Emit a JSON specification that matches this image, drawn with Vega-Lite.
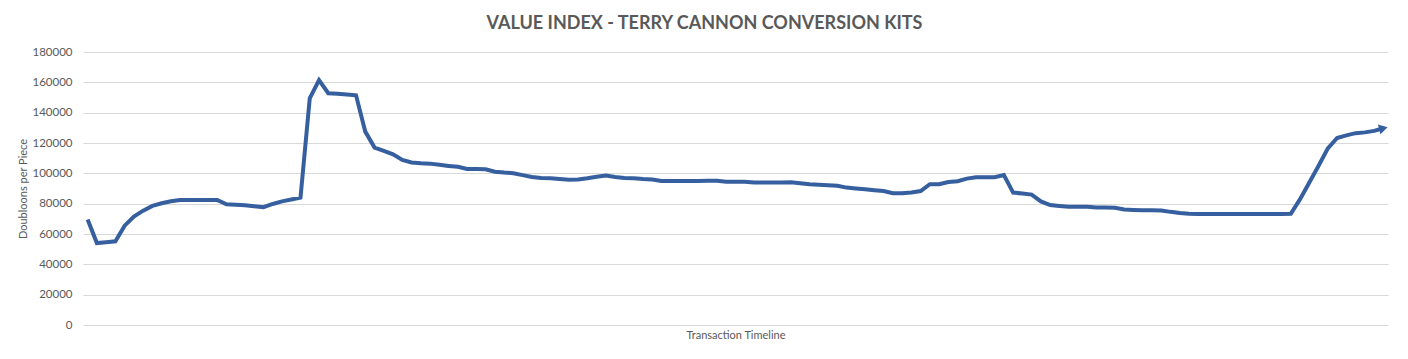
{
  "$schema": "https://vega.github.io/schema/vega-lite/v6.json",
  "width": 1305,
  "height": 273,
  "autosize": {"type": "none"},
  "padding": {"left": 83, "top": 52, "right": 20, "bottom": 34},
  "background": "white",
  "title": {
    "text": "VALUE INDEX - TERRY CANNON CONVERSION KITS",
    "font": "Lato",
    "fontSize": 18,
    "fontWeight": "bold",
    "color": "#595959",
    "anchor": "middle",
    "dx": -31,
    "offset": 13
  },
  "data": {
    "values": [
      {"t": 1, "v": 69500}, {"t": 2, "v": 54000}, {"t": 3, "v": 54600}, {"t": 4, "v": 55200},
      {"t": 5, "v": 65500}, {"t": 6, "v": 71500}, {"t": 7, "v": 75400}, {"t": 8, "v": 78500},
      {"t": 9, "v": 80300}, {"t": 10, "v": 81600}, {"t": 11, "v": 82400}, {"t": 12, "v": 82400},
      {"t": 13, "v": 82400}, {"t": 14, "v": 82400}, {"t": 15, "v": 82400}, {"t": 16, "v": 79600},
      {"t": 17, "v": 79300}, {"t": 18, "v": 79000}, {"t": 19, "v": 78300}, {"t": 20, "v": 77700},
      {"t": 21, "v": 79800}, {"t": 22, "v": 81500}, {"t": 23, "v": 82800}, {"t": 24, "v": 84000},
      {"t": 25, "v": 149500}, {"t": 26, "v": 161500}, {"t": 27, "v": 152800}, {"t": 28, "v": 152500},
      {"t": 29, "v": 152000}, {"t": 30, "v": 151400}, {"t": 31, "v": 127500}, {"t": 32, "v": 117000},
      {"t": 33, "v": 114800}, {"t": 34, "v": 112500}, {"t": 35, "v": 108800}, {"t": 36, "v": 107200},
      {"t": 37, "v": 106600}, {"t": 38, "v": 106400}, {"t": 39, "v": 105600}, {"t": 40, "v": 104900},
      {"t": 41, "v": 104300}, {"t": 42, "v": 102900}, {"t": 43, "v": 102900}, {"t": 44, "v": 102700},
      {"t": 45, "v": 101100}, {"t": 46, "v": 100500}, {"t": 47, "v": 100100}, {"t": 48, "v": 98800},
      {"t": 49, "v": 97600}, {"t": 50, "v": 97000}, {"t": 51, "v": 96700}, {"t": 52, "v": 96200},
      {"t": 53, "v": 95700}, {"t": 54, "v": 96000}, {"t": 55, "v": 96800}, {"t": 56, "v": 97800},
      {"t": 57, "v": 98500}, {"t": 58, "v": 97600}, {"t": 59, "v": 97000}, {"t": 60, "v": 96800},
      {"t": 61, "v": 96200}, {"t": 62, "v": 95900}, {"t": 63, "v": 95000}, {"t": 64, "v": 95000},
      {"t": 65, "v": 95000}, {"t": 66, "v": 95000}, {"t": 67, "v": 95000}, {"t": 68, "v": 95100},
      {"t": 69, "v": 95100}, {"t": 70, "v": 94500}, {"t": 71, "v": 94500}, {"t": 72, "v": 94500},
      {"t": 73, "v": 94000}, {"t": 74, "v": 93900}, {"t": 75, "v": 93900}, {"t": 76, "v": 94000},
      {"t": 77, "v": 94100}, {"t": 78, "v": 93500}, {"t": 79, "v": 92800}, {"t": 80, "v": 92500},
      {"t": 81, "v": 92200}, {"t": 82, "v": 91800}, {"t": 83, "v": 90600}, {"t": 84, "v": 90000},
      {"t": 85, "v": 89500}, {"t": 86, "v": 88900}, {"t": 87, "v": 88300}, {"t": 88, "v": 86900},
      {"t": 89, "v": 86900}, {"t": 90, "v": 87300}, {"t": 91, "v": 88300}, {"t": 92, "v": 92800},
      {"t": 93, "v": 92800}, {"t": 94, "v": 94300}, {"t": 95, "v": 94800}, {"t": 96, "v": 96500},
      {"t": 97, "v": 97400}, {"t": 98, "v": 97400}, {"t": 99, "v": 97400}, {"t": 100, "v": 98900},
      {"t": 101, "v": 87300}, {"t": 102, "v": 86700}, {"t": 103, "v": 86000}, {"t": 104, "v": 81500},
      {"t": 105, "v": 79100}, {"t": 106, "v": 78500}, {"t": 107, "v": 78000}, {"t": 108, "v": 78000},
      {"t": 109, "v": 77900}, {"t": 110, "v": 77400}, {"t": 111, "v": 77400}, {"t": 112, "v": 77300},
      {"t": 113, "v": 76200}, {"t": 114, "v": 75900}, {"t": 115, "v": 75700}, {"t": 116, "v": 75700},
      {"t": 117, "v": 75500}, {"t": 118, "v": 74600}, {"t": 119, "v": 73900}, {"t": 120, "v": 73400},
      {"t": 121, "v": 73200}, {"t": 122, "v": 73200}, {"t": 123, "v": 73200}, {"t": 124, "v": 73200},
      {"t": 125, "v": 73200}, {"t": 126, "v": 73200}, {"t": 127, "v": 73200}, {"t": 128, "v": 73200},
      {"t": 129, "v": 73200}, {"t": 130, "v": 73200}, {"t": 131, "v": 73300}, {"t": 132, "v": 83000},
      {"t": 133, "v": 94000}, {"t": 134, "v": 105000}, {"t": 135, "v": 116500}, {"t": 136, "v": 123300},
      {"t": 137, "v": 125000}, {"t": 138, "v": 126500}, {"t": 139, "v": 127000}, {"t": 140, "v": 128000},
      {"t": 141, "v": 129700}
    ]
  },
  "encoding": {
    "x": {
      "field": "t",
      "type": "quantitative",
      "scale": {"domain": [0.5, 141.5], "nice": false, "zero": false},
      "axis": {
        "title": "Transaction Timeline",
        "labels": false,
        "ticks": false,
        "domain": false,
        "grid": false,
        "titleFont": "Lato",
        "titleFontSize": 11,
        "titleFontWeight": "normal",
        "titleColor": "#595959",
        "titlePadding": 4
      }
    },
    "y": {
      "field": "v",
      "type": "quantitative",
      "scale": {"domain": [0, 180000], "nice": false},
      "axis": {
        "title": "Doubloons per Piece",
        "values": [0, 20000, 40000, 60000, 80000, 100000, 120000, 140000, 160000, 180000],
        "format": "d",
        "ticks": false,
        "tickSize": 0,
        "domain": false,
        "grid": true,
        "gridColor": "#d9d9d9",
        "gridWidth": 1,
        "labelFont": "Lato",
        "labelFontSize": 11.5,
        "labelColor": "#595959",
        "labelPadding": 11,
        "titleFont": "Lato",
        "titleFontSize": 11,
        "titleFontWeight": "normal",
        "titleColor": "#595959",
        "titlePadding": 3
      }
    }
  },
  "layer": [
    {
      "mark": {"type": "line", "color": "#365f9f", "strokeWidth": 4, "strokeJoin": "miter"}
    },
    {
      "transform": [{"filter": "datum.t == 141"}],
      "mark": {"type": "point", "shape": "triangle-right", "filled": true, "color": "#365f9f", "size": 100, "angle": -15, "opacity": 1}
    }
  ],
  "config": {"view": {"stroke": null}}
}
